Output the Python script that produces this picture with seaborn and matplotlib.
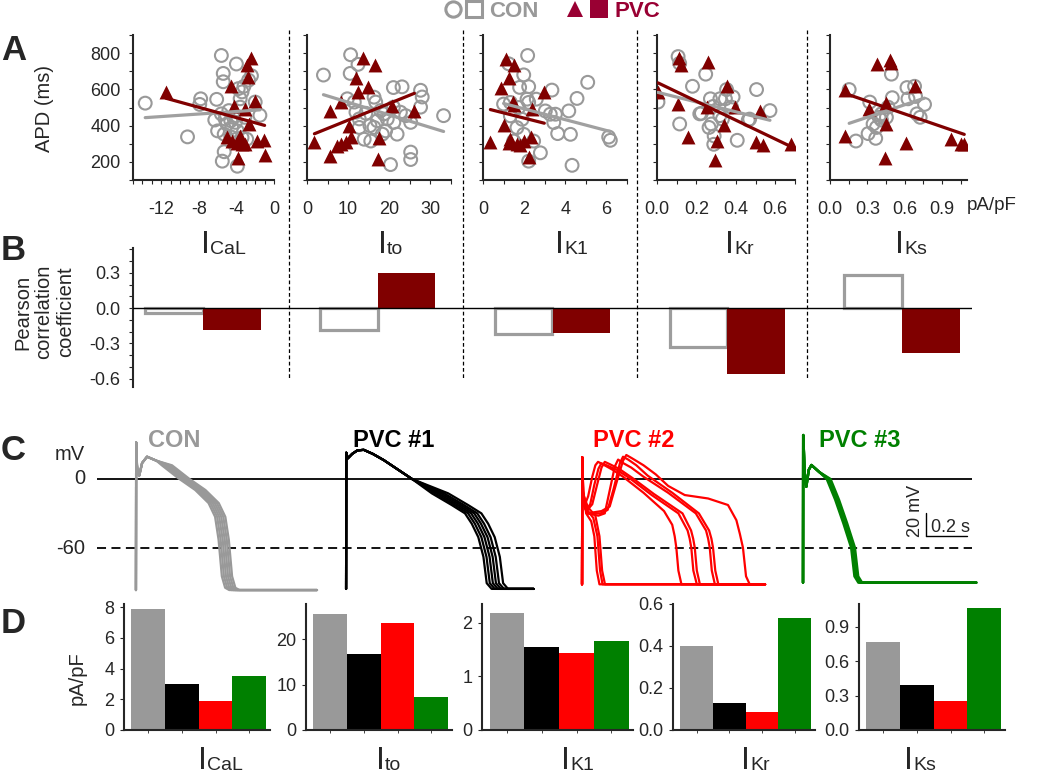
import matplotlib
matplotlib.use("Agg")
import numpy as np
import pandas as pd
import matplotlib.pyplot as plt
import seaborn as sns
from matplotlib.lines import Line2D
from matplotlib.ticker import MultipleLocator, FormatStrFormatter

sns.set_style("ticks")
plt.rcParams['font.family'] = ['Liberation Sans', 'DejaVu Sans']
plt.rcParams['axes.unicode_minus'] = False

GRAY = '#999999'
LGRAY = '#a0a0a0'
MAROON = '#800000'
LEG_RED = '#990033'

# ---------------- DATA ----------------
currents = ['CaL', 'to', 'K1', 'Kr', 'Ks']

# Panel A: current density (pA/pF) vs APD (ms)
con_cal_x = [-13.7,-9.2,-7.8,-7.9,-6.1,-5.6,-4.0,-5.4,-5.4,-6.3,-5.6,-5.2,-5.0,-4.8,-4.5,-5.3,-4.6,-3.8,-3.4,-3.2,
             -3.6,-3.9,-3.6,-3.4,-2.4,-1.5,-5.3,-5.5,-3.9,-2.9,-4.1,-6.0,-4.3,-3.1,-2.7,-2.0,-4.6]
con_cal_y = [524,338,548,517,545,787,740,688,642,431,465,437,409,483,390,353,338,604,586,617,
             548,371,502,334,675,457,256,204,176,325,418,371,446,446,651,530,427]
pvc_cal_x = [-11.5,-2.5,-2.9,-2.8,-4.6,-2.0,-4.3,-3.1,-2.7,-5.0,-4.5,-3.6,-3.4,-3.1,-1.8,-1.1,-3.8,-1.0,-3.9]
pvc_cal_y = [586,772,735,670,617,535,506,493,409,338,316,343,297,297,316,323,222,237,306]

con_to_x = [4.0,10.6,12.4,10.5,9.8,11.5,11.9,12.7,13.9,15.5,16.3,16.7,17.1,16.3,17.9,18.3,19.1,19.5,21.0,23.1,
            21.0,21.1,21.9,20.3,25.2,25.2,27.6,28.0,27.6,25.2,24.0,33.2,18.7,22.7,15.3,14.3,12.7]
con_to_y = [679,791,738,688,548,530,474,437,325,315,557,530,427,390,483,353,371,437,610,614,
            502,418,353,185,254,213,595,558,502,418,455,455,465,474,400,468,390]
pvc_to_x = [1.8,5.7,8.2,13.7,16.5,11.9,12.5,14.8,10.1,10.6,9.4,8.2,7.4,5.7,17.5,17.3,20.7,26.1]
pvc_to_y = [312,483,530,772,735,664,586,614,400,338,310,297,287,231,334,218,506,480]

con_k1_x = [2.17,1.25,1.98,1.78,2.22,1.0,1.33,2.14,2.59,3.35,5.09,4.57,4.17,3.03,3.27,3.52,3.44,3.63,4.25,6.11,
            6.19,2.79,2.22,4.33,1.65,1.98,1.49,2.46,1.33,1.9,2.22,1.73]
con_k1_y = [787,741,680,611,615,519,528,546,546,596,639,550,481,481,463,463,417,356,352,337,
            319,250,204,181,389,352,315,315,454,435,528,500]
pvc_k1_x = [0.36,1.13,1.52,1.25,0.88,2.98,1.46,1.49,2.38,1.0,1.33,1.65,1.82,1.98,2.35,2.22,1.25]
pvc_k1_y = [309,769,735,663,607,583,531,515,494,404,328,296,291,315,337,226,302]

con_kr_x = [0.107,0.115,0.005,0.18,0.247,0.115,0.225,0.271,0.285,0.276,0.29,0.319,0.347,0.386,0.378,0.332,
            0.407,0.463,0.505,0.573,0.264,0.319,0.353,0.47,0.288,0.217]
con_kr_y = [781,744,530,617,684,409,468,548,506,409,343,548,548,558,502,436,
            319,431,599,483,390,455,599,436,297,465]
pvc_kr_x = [0.005,0.11,0.124,0.259,0.107,0.353,0.254,0.395,0.339,0.158,0.302,0.293,0.522,0.502,0.536,0.68]
pvc_kr_y = [586,772,735,753,520,617,502,502,405,338,315,213,479,312,293,300]

con_ks_x = [0.154,0.319,0.208,0.306,0.367,0.346,0.394,0.413,0.453,0.493,0.5,0.618,0.626,0.679,0.687,0.698,
            0.724,0.759,0.466,0.413,0.373]
con_ks_y = [599,530,315,356,330,409,446,431,446,684,554,610,548,617,561,465,446,517,502,465,390]
pvc_ks_x = [0.12,0.12,0.314,0.381,0.479,0.493,0.453,0.453,0.439,0.679,0.612,0.972,1.052,1.078]
pvc_ks_y = [599,343,492,740,763,744,524,409,222,617,306,325,297,300]

# Panel B: Pearson correlation coefficients
r_con = [-0.04, -0.19, -0.22, -0.33, 0.28]
r_pvc = [-0.19, 0.30, -0.21, -0.56, -0.38]

# Panel C: action potentials (time ms from upstroke, mV)
con_t = [0, 1, 5, 9, 16, 30, 54, 100, 151, 233, 314, 379, 411, 428, 444, 460, 480, 883]
con_v = [-97, 32, 12, 5, 3, 14, 19.5, 16, 12, 0.5, -9.6, -21, -33, -53, -85, -95, -97, -97]
con_shift = [-25, -15, -5, 5, 15, 25]

pvc1_t = [0, 1, 8, 30, 55, 86, 130, 184, 322, 428, 525, 590, 623, 655, 680, 696, 720, 915]
pvc1_v = [-96, 23, 18, 22, 25, 25.5, 22, 16.5, 0, -12.5, -22.7, -30, -39, -50.8, -68, -91, -96, -96]
pvc1_shift = [-10, 5, 20, 35, 50, 70]

pvc2_traces = [
    ([0, 1, 6, 20, 45, 60, 72, 85, 893], [-92, 19, -10, -30, -37, -50, -80, -92, -92]),
    ([0, 1, 6, 25, 55, 75, 88, 100, 893], [-92, 19, -12, -27, -34, -50, -80, -92, -92]),
    ([0, 1, 6, 30, 65, 85, 98, 112, 893], [-92, 19, -14, -25, -32, -50, -80, -92, -92]),
    ([0, 1, 5, 15, 30, 50, 65, 78, 100, 150, 200, 300, 400, 440, 452, 460, 470, 485, 893],
     [-92, 19, -12, -22, -15, 2, 12, 15, 13, 8, 2, -12, -28, -40, -50, -60, -80, -92, -92]),
    ([0, 1, 5, 20, 40, 60, 80, 94, 120, 170, 230, 340, 470, 515, 525, 533, 543, 560, 893],
     [-92, 19, -18, -27, -22, -5, 9, 13.7, 12, 8, 1, -14, -30, -45, -52, -60, -80, -92, -92]),
    ([0, 1, 5, 22, 50, 75, 95, 111, 135, 180, 245, 350, 490, 532, 542, 550, 560, 575, 893],
     [-92, 19, -18, -28, -22, -4, 10, 15, 13, 9, 1, -13, -30, -45, -52, -60, -80, -92, -92]),
    ([0, 1, 5, 25, 80, 111, 135, 160, 176, 200, 240, 300, 420, 555, 605, 615, 623, 633, 648, 893],
     [-92, 19, -20, -30, -32, -30, -10, 11, 17, 14, 10, 2, -12, -30, -45, -52, -60, -80, -92, -92]),
    ([0, 1, 5, 25, 90, 125, 155, 185, 200, 225, 265, 320, 440, 570, 620, 631, 639, 650, 665, 893],
     [-92, 19, -20, -30, -30, -27, -8, 14, 19.5, 17, 12, 3, -12, -30, -45, -52, -60, -80, -92, -92]),
    ([0, 1, 5, 25, 95, 135, 170, 200, 216, 245, 300, 360, 420, 501, 615, 712, 753, 770, 785, 800, 818, 893],
     [-92, 19, -20, -30, -28, -24, -2, 16, 21, 18, 12, 4, -6, -14, -17, -22.7, -36, -48, -60, -85, -92, -92]),
]

pvc3_t = [0, 1, 8, 16, 28, 41, 80, 122, 163, 203, 241, 257, 276, 845]
pvc3_v = [-90.5, 38.4, 5, -6.7, 8, 12.2, 6, 0, -18, -38.7, -60, -85, -90.5, -90.5]
pvc3_shift = [-6, 0, 6, 12]

ap_onsets = [190, 1215, 2366, 3444]       # ms, position of each upstroke
ap_names = ['CON', 'PVC #1', 'PVC #2', 'PVC #3']
ap_colors = ['#999999', '#000000', '#ff0000', '#008000']

# Panel D: current densities of example cells
d_groups = ['CON', 'PVC #1', 'PVC #2', 'PVC #3']
d_cal = [7.85, 3.02, 1.91, 3.5]
d_to = [25.7, 16.7, 23.7, 7.35]
d_k1 = [2.19, 1.54, 1.44, 1.66]
d_kr = [0.40, 0.127, 0.087, 0.535]
d_ks = [0.77, 0.392, 0.253, 1.069]

# ---------------- FIGURE ----------------
W, H = 1050, 778
fig = plt.figure(figsize=(W / 100, H / 100), dpi=100)


def box(l, t, r, b):
    return [l / W, 1 - b / H, (r - l) / W, (b - t) / H]


def ftext(x, y, s, **kw):
    return fig.text(x / W, 1 - y / H, s, **kw)


def cur_label(xI, base, sub):
    ftext(xI - 2, base, 'I', fontsize=23, ha='left', va='baseline')
    ftext(xI + 7, base + 1.5, sub, fontsize=14, ha='left', va='baseline')


# ---- Panel A ----
con_xs = [con_cal_x, con_to_x, con_k1_x, con_kr_x, con_ks_x]
con_ys = [con_cal_y, con_to_y, con_k1_y, con_kr_y, con_ks_y]
pvc_xs = [pvc_cal_x, pvc_to_x, pvc_k1_x, pvc_kr_x, pvc_ks_x]
pvc_ys = [pvc_cal_y, pvc_to_y, pvc_k1_y, pvc_kr_y, pvc_ks_y]
a_boxes = [(133, 274), (307, 451), (483, 627), (657, 795), (830, 967)]
a_xlims = [(-15, 0), (0, 35), (0, 7), (0, 0.7), (0, 1.1)]
a_major = [[-12, -8, -4, 0], [0, 10, 20, 30], [0, 2, 4, 6], [0, .2, .4, .6], [0, .3, .6, .9]]
a_minor = [1, 5, 1, 0.1, 0.15]
a_fmt = ['%d', '%d', '%d', '%.1f', '%.1f']

for i in range(5):
    l, r = a_boxes[i]
    ax = fig.add_axes(box(l, 35, r, 180))
    sns.scatterplot(x=con_xs[i], y=con_ys[i], ax=ax, marker='o', s=85, facecolor='none',
                    edgecolor=GRAY, linewidth=1.5, zorder=2)
    sns.scatterplot(x=pvc_xs[i], y=pvc_ys[i], ax=ax, marker='^', s=100, color=MAROON,
                    linewidth=0, zorder=3)
    sns.regplot(x=con_xs[i], y=con_ys[i], ax=ax, scatter=False, ci=None, color=LGRAY,
                line_kws=dict(lw=2.3, zorder=4))
    sns.regplot(x=pvc_xs[i], y=pvc_ys[i], ax=ax, scatter=False, ci=None, color=MAROON,
                line_kws=dict(lw=2.3, zorder=5))
    ax.set_xlim(*a_xlims[i])
    ax.set_ylim(100, 900)
    ax.set_xlabel('')
    ax.set_ylabel('')
    sns.despine(ax=ax)
    for s in ['left', 'bottom']:
        ax.spines[s].set_linewidth(1.5)
    ax.set_xticks(a_major[i])
    ax.set_xticklabels([a_fmt[i] % v for v in a_major[i]])
    ax.xaxis.set_minor_locator(MultipleLocator(a_minor[i]))
    ax.set_yticks([200, 400, 600, 800])
    ax.yaxis.set_minor_locator(MultipleLocator(100))
    ax.tick_params(which='both', direction='out', length=3, width=0.8)
    ax.tick_params(axis='x', which='major', labelsize=13, pad=12)
    if i == 0:
        ax.tick_params(axis='y', labelsize=13, pad=6)
    else:
        ax.set_yticklabels([])

ftext(44, 108, 'APD (ms)', fontsize=14.5, rotation=90, ha='center', va='center')
ftext(967, 205, 'pA/pF', fontsize=13.5, ha='left', va='center')

# ---- Panel B ----
axB = fig.add_axes(box(133, 248, 972, 387))
dfB = pd.DataFrame({'current': currents * 2,
                    'group': ['CON'] * 5 + ['PVC'] * 5,
                    'r': r_con + r_pvc})
sns.barplot(data=dfB, x='current', y='r', hue='group', order=currents, hue_order=['CON', 'PVC'],
            palette={'CON': 'white', 'PVC': MAROON}, width=0.66, errorbar=None, legend=False,
            saturation=1, linewidth=0, ax=axB)
for bar in axB.containers[0]:
    bar.set_edgecolor('#9d9d9d')
    bar.set_linewidth(2.3)
axB.axhline(0, color='k', lw=1.0, zorder=5)
axB.set_xlim(-0.4, 4.4)
axB.set_ylim(-0.67, 0.51)
axB.set_xlabel('')
axB.set_ylabel('')
axB.set_xticks([])
sns.despine(ax=axB, bottom=True)
axB.spines['left'].set_linewidth(1.5)
axB.set_yticks([-0.6, -0.3, 0.0, 0.3])
axB.yaxis.set_major_formatter(FormatStrFormatter('%.1f'))
axB.yaxis.set_minor_locator(MultipleLocator(0.1))
axB.tick_params(which='both', direction='out', length=3, width=0.8)
axB.tick_params(axis='y', labelsize=13, pad=6)
ftext(44, 312, 'Pearson\ncorrelation\ncoefficient', fontsize=14.5, rotation=90,
      ha='center', va='center', multialignment='center', linespacing=1.15)

# current labels under A
for xI, sub in zip([203, 380, 557, 727, 897], ['CaL', 'to', 'K1', 'Kr', 'Ks']):
    cur_label(xI, 253, sub)

# dashed separators
for xs in [289, 463, 637, 807]:
    fig.add_artist(Line2D([xs / W, xs / W], [1 - 30 / H, 1 - 378 / H], color='k', lw=0.9,
                          ls=(0, (3, 2)), transform=fig.transFigure))

# ---- Panel C ----
axC = fig.add_axes(box(97, 425, 980, 600))
axC.set_xlim(0, 883 / 0.205)
axC.set_ylim(-105.7, 47.2)
axC.axis('off')
axC.hlines(0, 0, 875 / 0.205, color='k', lw=1.3, zorder=1)
axC.hlines(-60, 0, 875 / 0.205, color='k', lw=1.3, linestyles=[(0, (5, 3))], zorder=1)


def shifted(t, shift, split):
    return [ti + shift if split <= ti < t[-1] else ti for ti in t]


for s in con_shift:
    tt = [ap_onsets[0] + ti for ti in shifted(con_t, s, 151)]
    sns.lineplot(x=tt, y=con_v, ax=axC, color=ap_colors[0], lw=1.6, sort=False, estimator=None)
for s in pvc1_shift:
    tt = [ap_onsets[1] + ti for ti in shifted(pvc1_t, s, 428)]
    sns.lineplot(x=tt, y=pvc1_v, ax=axC, color=ap_colors[1], lw=1.6, sort=False, estimator=None)
for t2, v2 in pvc2_traces:
    tt = [ap_onsets[2] + ti for ti in t2]
    sns.lineplot(x=tt, y=v2, ax=axC, color=ap_colors[2], lw=1.6, sort=False, estimator=None)
for s in pvc3_shift:
    tt = [ap_onsets[3] + ti for ti in shifted(pvc3_t, s, 122)]
    sns.lineplot(x=tt, y=pvc3_v, ax=axC, color=ap_colors[3], lw=1.8, sort=False, estimator=None)

# scale bar
axC.plot([4044, 4044], [-30, -50], color='k', lw=1.0)
axC.plot([4044, 4244], [-50, -50], color='k', lw=1.0)
ftext(915, 511, '20 mV', fontsize=13, rotation=90, ha='center', va='center')
ftext(931, 527, '0.2 s', fontsize=13, ha='left', va='center')

for name, col, xl in zip(ap_names, ap_colors, [148, 353, 593, 819]):
    ftext(xl, 440, name, fontsize=17, fontweight='bold', color=col, ha='left', va='center')
ftext(85, 455, 'mV', fontsize=14.5, ha='right', va='center')
ftext(85, 479, '0', fontsize=14.5, ha='right', va='center')
ftext(85, 548, '-60', fontsize=14.5, ha='right', va='center')

# ---- Panel D ----
d_vals = [d_cal, d_to, d_k1, d_kr, d_ks]
d_boxes = [(124, 270), (306, 452), (482, 633), (673, 815), (859, 1005)]
d_ylims = [8.2, 27.8, 2.35, 0.6, 1.1]
d_ticks = [[0, 2, 4, 6, 8], [0, 10, 20], [0, 1, 2], [0, .2, .4, .6], [0, .3, .6, .9]]
d_fmt = ['%d', '%d', '%d', '%.1f', '%.1f']
for i in range(5):
    l, r = d_boxes[i]
    ax = fig.add_axes(box(l, 604, r, 730))
    sns.barplot(x=d_groups, y=d_vals[i], hue=d_groups, palette=ap_colors, width=1.0,
                saturation=1, legend=False, linewidth=0, errorbar=None, ax=ax)
    ax.set_xlim(-0.72, 3.62)
    ax.set_ylim(0, d_ylims[i])
    ax.set_xlabel('')
    ax.set_ylabel('')
    sns.despine(ax=ax)
    for s in ['left', 'bottom']:
        ax.spines[s].set_linewidth(1.5)
    ax.set_xticks([0, 1, 2, 3])
    ax.set_xticklabels([])
    ax.set_yticks(d_ticks[i])
    ax.set_yticklabels([d_fmt[i] % v for v in d_ticks[i]])
    ax.tick_params(axis='x', direction='out', length=2, width=0.6)
    ax.tick_params(axis='y', direction='out', length=3, width=0.8, labelsize=13, pad=4)

ftext(77, 678, 'pA/pF', fontsize=14.5, rotation=90, ha='center', va='center')
for xI, sub in zip([200, 378, 563, 743, 906], ['CaL', 'to', 'K1', 'Kr', 'Ks']):
    cur_label(xI, 769, sub)

# ---- panel letters ----
for letter, base in zip('ABCD', [60, 260, 460, 633]):
    ftext(1, base, letter, fontsize=25, fontweight='bold', ha='left', va='baseline')

# ---- legend at top ----
def fig_marker(x, y, **kw):
    fig.add_artist(Line2D([x / W], [1 - y / H], transform=fig.transFigure, ls='none', **kw))

fig_marker(453, 9, marker='o', ms=11, mfc='none', mec=GRAY, mew=2.2)
fig_marker(474, 9, marker='s', ms=11, mfc='none', mec=GRAY, mew=2.2)
ftext(489, 17, 'CON', fontsize=16, fontweight='bold', color=GRAY, ha='left', va='baseline')
fig_marker(575, 9, marker='^', ms=12, mfc=LEG_RED, mec=LEG_RED, mew=0)
fig_marker(599, 9, marker='s', ms=13, mfc=LEG_RED, mec=LEG_RED, mew=0)
ftext(614, 17, 'PVC', fontsize=16, fontweight='bold', color=LEG_RED, ha='left', va='baseline')

fig.savefig('out.png', dpi=100)
